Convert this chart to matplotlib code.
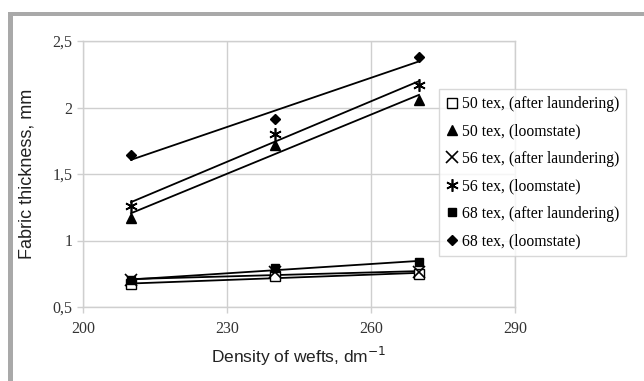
import matplotlib.pyplot as plt
import numpy as np
from matplotlib.lines import Line2D

# weft density, dm^-1
density = [210, 240, 270]

# fabric thickness, mm
tex50_laundered = [0.67, 0.73, 0.75]
tex50_loomstate = [1.17, 1.72, 2.06]
tex56_laundered = [0.70, 0.76, 0.76]
tex56_loomstate = [1.26, 1.80, 2.17]
tex68_laundered = [0.70, 0.79, 0.84]
tex68_loomstate = [1.64, 1.91, 2.38]

labels = ['50 tex, (after laundering)', '50 tex, (loomstate)',
          '56 tex, (after laundering)', '56 tex, (loomstate)',
          '68 tex, (after laundering)', '68 tex, (loomstate)']
series = [tex50_laundered, tex50_loomstate, tex56_laundered,
          tex56_loomstate, tex68_laundered, tex68_loomstate]
markers = [dict(marker='s', mfc='white', mec='black', ms=6.5, mew=1.0),
           dict(marker='^', mfc='black', mec='black', ms=6.5),
           dict(marker='x', mfc='none', mec='black', ms=9, mew=1.2),
           dict(marker=(6, 2, 0), mfc='none', mec='black', ms=9, mew=1.2),
           dict(marker='s', mfc='black', mec='black', ms=5.5),
           dict(marker='D', mfc='black', mec='black', ms=5)]

fig = plt.figure(figsize=(6.44, 3.81), dpi=100)
fig.patch.set_facecolor('white')

# gray frame at top and left
frame_col = '#a9a9a9'
fig.add_artist(plt.Rectangle((8 / 644, 1 - 16 / 381), 1, 4 / 381,
                             transform=fig.transFigure, color=frame_col, lw=0))
fig.add_artist(plt.Rectangle((8 / 644, 0), 5 / 644, 1 - 12 / 381,
                             transform=fig.transFigure, color=frame_col, lw=0))

ax = fig.add_axes([83 / 644, 1 - 307 / 381, 432 / 644, 266 / 381])

x = np.array(density)
for vals, lab, mk in zip(series, labels, markers):
    # linear trend line through the points
    k, b = np.polyfit(x, vals, 1)
    ax.plot(x, k * x + b, color='black', lw=1.3, zorder=3)
    ax.plot(x, vals, linestyle='none', zorder=4, **mk)

ax.set_xlim(200, 290)
ax.set_ylim(0.5, 2.5)
ax.set_xticks([200, 230, 260, 290])
ax.set_yticks([0.5, 1, 1.5, 2, 2.5])
ax.set_yticklabels(['0,5', '1', '1,5', '2', '2,5'])
ax.grid(True, color='#cfcfcf', lw=1.0)
ax.set_axisbelow(True)
for s in ax.spines.values():
    s.set_color('#cfcfcf')
    s.set_linewidth(1.0)
ax.tick_params(axis='both', colors='#cfcfcf', length=4, width=1.0,
               labelcolor='#333333', labelsize=11.5)
for t in ax.get_xticklabels() + ax.get_yticklabels():
    t.set_family('Liberation Serif')
ax.tick_params(axis='x', pad=6)

ax.set_xlabel('Density of wefts, dm$^{-1}$', family='Liberation Sans',
              fontsize=12.5, color='#222222', labelpad=6)
ax.set_ylabel('Fabric thickness, mm', family='Liberation Sans',
              fontsize=13, color='#222222', labelpad=12)

handles = [Line2D([], [], linestyle='none', color='black', **mk) for mk in markers]
leg = fig.legend(handles, labels, loc='upper left',
                 bbox_to_anchor=(439 / 644, 1 - 89 / 381),
                 prop={'family': 'Liberation Serif', 'size': 11.3},
                 frameon=True, fancybox=False, edgecolor='#cfcfcf',
                 handlelength=0.7, handletextpad=0.3, labelspacing=0.73,
                 borderpad=0.45, borderaxespad=0)
leg.get_frame().set_linewidth(1.0)

fig.savefig('out.png', dpi=100, facecolor='white')
